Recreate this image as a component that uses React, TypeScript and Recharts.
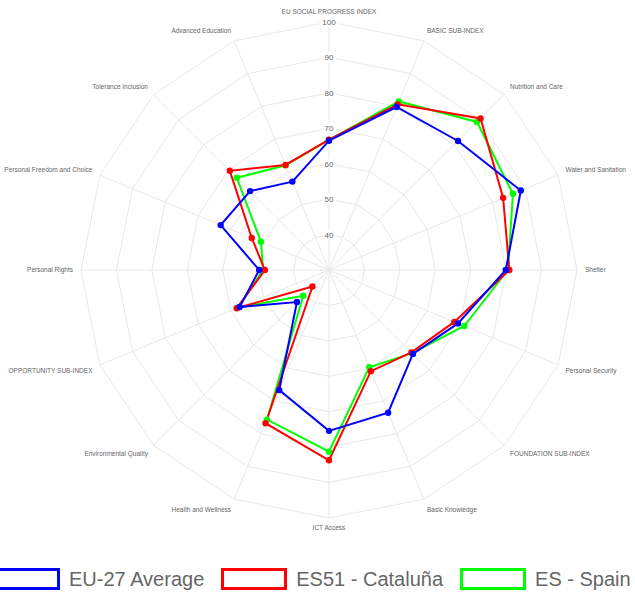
import React from 'react';
import {
  RadarChart,
  Radar,
  PolarGrid,
  PolarAngleAxis,
  PolarRadiusAxis,
} from 'recharts';

const categories = [
  'EU SOCIAL PROGRESS INDEX',
  'BASIC SUB-INDEX',
  'Nutrition and Care',
  'Water and Sanitation',
  'Shelter',
  'Personal Security',
  'FOUNDATION SUB-INDEX',
  'Basic Knowledge',
  'ICT Access',
  'Health and Wellness',
  'Environmental Quality',
  'OPPORTUNITY SUB-INDEX',
  'Personal Rights',
  'Personal Freedom and Choice',
  'Tolerance Inclusion',
  'Advanced Education',
];

const eu27 = [66.5, 79.8, 81.5, 88.6, 79.9, 69.4, 63.5, 73.6, 75.4, 66.7, 42.8, 57.3, 49.7, 63.1, 61.5, 57.0];
const cataluna = [66.8, 80.6, 90.5, 83.2, 80.9, 68.3, 62.9, 60.9, 83.7, 76.8, 36.6, 58.2, 48.1, 53.6, 69.6, 62.1];
const spain = [66.7, 81.5, 89.1, 86.2, 80.5, 71.3, 63.2, 59.7, 81.3, 75.7, 40.3, 57.7, 48.6, 50.8, 66.8, 62.0];

const radiusTicks = [30, 40, 50, 60, 70, 80, 90, 100];

const seriesInfo = [
  { key: 'eu27', label: 'EU-27 Average', color: '#0000ff' },
  { key: 'cataluna', label: 'ES51 - Cataluña', color: '#ff0000' },
  { key: 'spain', label: 'ES - Spain', color: '#00ff00' },
];

const CX = 329;
const CY = 270;
const FONT = '"Liberation Sans", Arial, Helvetica, sans-serif';

const chartData = categories.map((name, i) => ({
  name,
  eu27: eu27[i],
  cataluna: cataluna[i],
  spain: spain[i],
}));

function AngleTick(props: any) {
  const { x, y, payload, textAnchor } = props;
  let dy = 0;
  if (Math.abs(y - CY) < 2) dy = 2.3;
  else if (y > CY) dy = Math.abs(x - CX) < 2 ? 4 : 5;
  return (
    <text x={x} y={y} dy={dy} textAnchor={textAnchor} fontSize={6.5} fill="#666" fontFamily={FONT}>
      {payload.value}
    </text>
  );
}

function RadiusTick(props: any) {
  const { x, y, payload } = props;
  if (payload.value === 30) return null;
  const label = String(payload.value);
  const w = label.length * 4.6 + 4;
  return (
    <g>
      <rect x={x - w / 2} y={y - 5} width={w} height={10} fill="#fff" />
      <text x={x} y={y} dy={3} textAnchor="middle" fontSize={8} fill="#666" fontFamily={FONT}>
        {label}
      </text>
    </g>
  );
}

const makeDot = (color: string) => (p: any) => (
  <circle key={`dot-${p.index}`} cx={p.cx} cy={p.cy} r={3.2} fill={color} stroke="none" />
);

export default function App() {
  // draw in reverse so the first series ends up on top
  const drawOrder = [...seriesInfo].reverse();
  return (
    <div style={{ position: 'absolute', left: 0, top: 0, width: 635, height: 592, overflow: 'hidden', background: '#fff' }}>
      <RadarChart width={635} height={555} data={chartData} cx={CX} cy={CY} outerRadius={248}>
        <PolarGrid gridType="polygon" stroke="#e8e8e8" />
        <PolarAngleAxis dataKey="name" tick={<AngleTick />} tickLine={false} axisLine={false} />
        <PolarRadiusAxis
          angle={90}
          domain={[30, 100]}
          ticks={radiusTicks}
          tickCount={8}
          orientation="middle"
          axisLine={false}
          tickLine={false}
          tick={<RadiusTick />}
        />
        {drawOrder.map(s => (
          <Radar
            key={s.key}
            name={s.label}
            dataKey={s.key}
            stroke={s.color}
            strokeWidth={2}
            fill="none"
            fillOpacity={0}
            dot={makeDot(s.color)}
            isAnimationActive={false}
          />
        ))}
      </RadarChart>
      <div style={{ position: 'absolute', left: -6, top: 568, display: 'flex', alignItems: 'center', fontFamily: FONT, fontSize: 20, color: '#666', whiteSpace: 'nowrap' }}>
        {seriesInfo.map((s, i) => (
          <div key={s.key} style={{ display: 'flex', alignItems: 'center', marginRight: i < seriesInfo.length - 1 ? 17 : 0 }}>
            <div style={{ width: 66, height: 22, boxSizing: 'border-box', border: `3px solid ${s.color}`, background: '#fff', marginRight: 9 }} />
            <span style={{ lineHeight: '22px' }}>{s.label}</span>
          </div>
        ))}
      </div>
    </div>
  );
}
